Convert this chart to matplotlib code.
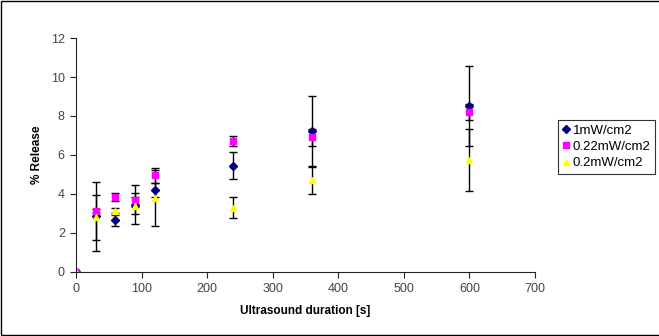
import numpy as np
import matplotlib.pyplot as plt
from matplotlib.patches import Rectangle

plt.rcParams['font.family'] = ['Liberation Sans', 'DejaVu Sans']

# ultrasound duration [s]
duration = [0, 30, 60, 90, 120, 240, 360, 600]

# % release per intensity, with error bars
rel_1mw = [0, 2.85, 2.65, 3.45, 4.2, 5.45, 7.25, 8.5]
err_1mw = [0, 1.75, 0.27, 1.0, 0.35, 0.7, 1.8, 2.05]

rel_022 = [0, 3.15, 3.85, 3.7, 4.95, 6.7, 6.9, 8.2]
err_022 = [0, 0.1, 0.2, 0.35, 0.4, 0.25, 0.45, 0.4]

rel_02 = [0, 2.8, 3.15, 3.4, 3.8, 3.3, 4.7, 5.75]
err_02 = [0, 1.15, 0.15, 0.45, 1.45, 0.55, 0.7, 1.6]

labels = ['1mW/cm2', '0.22mW/cm2', '0.2mW/cm2']

fig = plt.figure(figsize=(6.59, 3.36), dpi=100)
ax = fig.add_axes([0.1153, 0.1905, 0.6965, 0.6964])

# outer chart-area border (right side runs off the picture)
fig.patches.append(Rectangle((0.002, 0.003), 1.2, 0.994, transform=fig.transFigure,
                             fill=False, edgecolor='black', linewidth=1))

ekw = dict(ecolor='black', elinewidth=1, capsize=3, capthick=1, linestyle='none')
ax.errorbar(duration, rel_1mw, yerr=err_1mw, fmt='D', color='#000080', markersize=4,
            label=labels[0], **ekw)
ax.errorbar(duration, rel_022, yerr=err_022, fmt='s', color='#FF00FF', markersize=5,
            label=labels[1], **ekw)
ax.errorbar(duration, rel_02, yerr=err_02, fmt='^', color='#FFFF00', markersize=5,
            label=labels[2], **ekw)

ax.set_xlim(0, 700)
ax.set_ylim(0, 12)
ax.set_xticks(range(0, 701, 100))
ax.set_yticks(range(0, 13, 2))
ax.spines['top'].set_visible(False)
ax.spines['right'].set_visible(False)
ax.spines['left'].set_color('#222222')
ax.spines['bottom'].set_color('#222222')
ax.tick_params(labelsize=9, labelcolor='#444444', length=4, color='#222222',
               direction='out', pad=4)

ax.set_xlabel('Ultrasound duration [s]', fontsize=8.5, fontweight='bold', labelpad=7)
ax.set_ylabel('% Release', fontsize=8.5, fontweight='bold', labelpad=6)

handles, lbls = ax.get_legend_handles_labels()
handles = [h[0] for h in handles]
leg = fig.legend(handles, lbls, loc='upper left', bbox_to_anchor=(0.847, 0.643),
                 fontsize=9.5, frameon=True, fancybox=False, edgecolor='black',
                 handlelength=0.5, handletextpad=0.25, borderpad=0.35, labelspacing=0.3,
                 borderaxespad=0, markerscale=1.0)
leg.get_frame().set_linewidth(0.8)

fig.savefig('out.png', dpi=100)
